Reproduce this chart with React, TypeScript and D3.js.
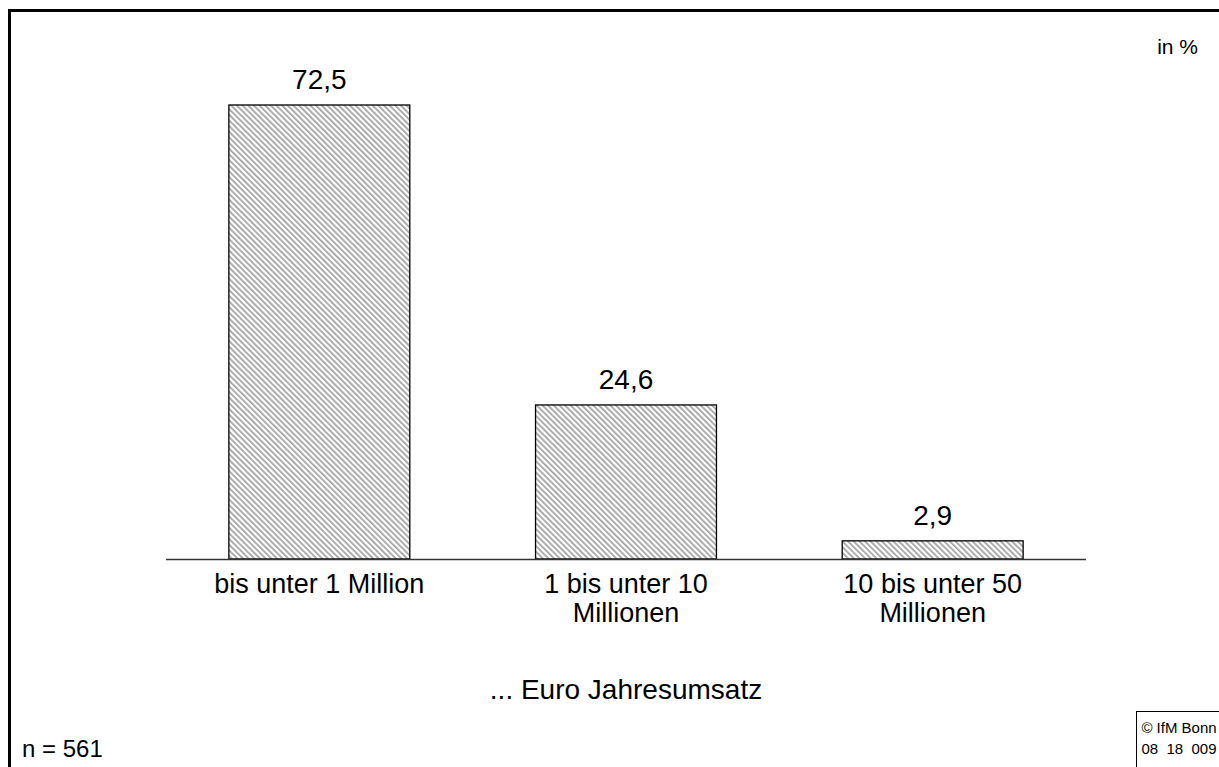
import React from 'react';
import * as d3 from 'd3';

const categories = ['bis unter 1 Million', '1 bis unter 10 Millionen', '10 bis unter 50 Millionen'];
const categoryLines = [['bis unter 1 Million'], ['1 bis unter 10', 'Millionen'], ['10 bis unter 50', 'Millionen']];
const values = [72.5, 24.6, 2.9];
const valueLabels = ['72,5', '24,6', '2,9'];

const W = 1219;
const H = 767;
const FONT = 'Arial, "Liberation Sans", sans-serif';

export default function App() {
  const x = d3.scaleBand<string>().domain(categories).range([166, 1086]).paddingInner(0.41).paddingOuter(0.205);
  const y = d3.scaleLinear().domain([0, 72.5]).range([559, 105]);

  return (
    <svg width={W} height={H} style={{ position: 'fixed', left: 0, top: 0, background: '#fff' }}>
      <defs>
        <pattern id="hatch" patternUnits="userSpaceOnUse" width={4} height={4} patternTransform="rotate(-45)">
          <rect width={4} height={4} fill="#fff" />
          <rect width={1.7} height={4} fill="#a0a0a0" />
        </pattern>
      </defs>
      <rect x={0} y={0} width={W} height={H} fill="#fff" />
      {/* frame */}
      <line x1={9.5} y1={H} x2={9.5} y2={10} stroke="#000" strokeWidth={3} />
      <line x1={8} y1={10.5} x2={W} y2={10.5} stroke="#000" strokeWidth={3} />

      <text x={1198} y={54} textAnchor="end" fontFamily={FONT} fontSize={21}>in %</text>

      {categories.map((c, i) => (
        <g key={c}>
          <rect
            x={x(c)}
            y={y(values[i])}
            width={x.bandwidth()}
            height={y(0) - y(values[i])}
            fill="url(#hatch)"
            stroke="#000"
            strokeWidth={1.3}
          />
          <text x={x(c)! + x.bandwidth() / 2} y={y(values[i]) - 16} textAnchor="middle" fontFamily={FONT} fontSize={28}>
            {valueLabels[i]}
          </text>
          {categoryLines[i].map((l, j) => (
            <text key={j} x={x(c)! + x.bandwidth() / 2} y={593 + j * 29} textAnchor="middle" fontFamily={FONT} fontSize={27}>
              {l}
            </text>
          ))}
        </g>
      ))}
      <line x1={166} x2={1086} y1={559.5} y2={559.5} stroke="#333" strokeWidth={1.5} />

      <text x={626} y={699} textAnchor="middle" fontFamily={FONT} fontSize={28}>... Euro Jahresumsatz</text>
      <text x={22} y={757} fontFamily={FONT} fontSize={24}>n = 561</text>

      <line x1={1136.5} y1={711} x2={1136.5} y2={H} stroke="#000" strokeWidth={1} />
      <line x1={1136} y1={711.5} x2={W} y2={711.5} stroke="#000" strokeWidth={1} />
      <text x={1179} y={733} textAnchor="middle" fontFamily={FONT} fontSize={15}>© IfM Bonn</text>
      <text x={1179} y={754} textAnchor="middle" fontFamily={FONT} fontSize={15} style={{ whiteSpace: 'pre' }}>{'08  18  009'}</text>
    </svg>
  );
}
